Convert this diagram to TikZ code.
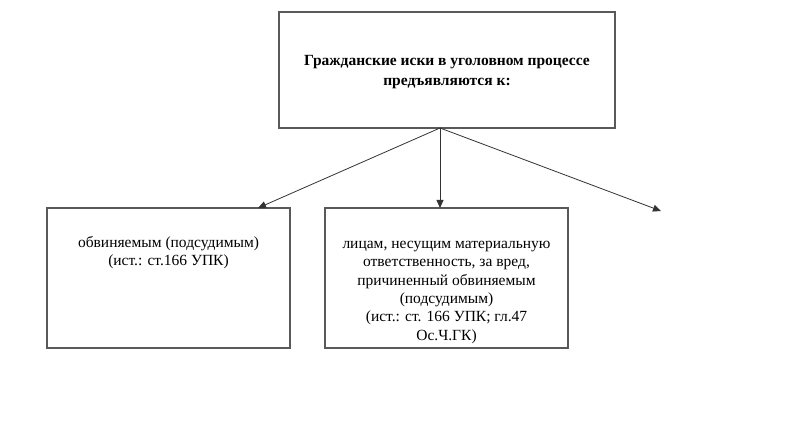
\documentclass[tikz,border=0pt]{standalone}
\usepackage{fontspec}
\setmainfont{Liberation Serif}
\usetikzlibrary{arrows.meta}
\begin{document}
\begin{tikzpicture}[x=1pt,y=-1pt,
  box/.style={draw=black!65,line width=1.3pt},
  txt/.style={align=center,font=\fontsize{15.5}{18.3}\selectfont,inner sep=0pt},
  conn/.style={draw=black!80,line width=0.8pt,-{Triangle[length=8pt,width=7pt]}}]
\useasboundingbox (0,0) rectangle (800,430);
\fill[white] (0,0) rectangle (800,430);
\draw[box] (279,12) rectangle (615,128);
\draw[box] (47,208) rectangle (290,348);
\draw[box] (325,208) rectangle (568,348);
\coordinate (top) at (440,128);
\coordinate (l) at (258,208);
\coordinate (m) at (440,208);
\coordinate (r) at (661,211);
\node[txt,font=\bfseries\fontsize{15.5}{20}\selectfont] (t0) at (447,72) {Гражданские иски в уголовном процессе\\предъявляются к:};
\node[txt,anchor=north] (t1) at (168.5,236) {обвиняемым (подсудимым)\\(ист.: ст.166 УПК)};
\node[txt,anchor=north] (t2) at (446.5,241) {лицам, несущим материальную\\ответственность, за вред,\\причиненный обвиняемым\\(подсудимым)\\(ист.: ст. 166 УПК; гл.47\\Ос.Ч.ГК)};
\draw[conn] (top) -- (l);
\draw[conn] (top) -- (m);
\draw[conn] (top) -- (r);
\end{tikzpicture}
\end{document}
